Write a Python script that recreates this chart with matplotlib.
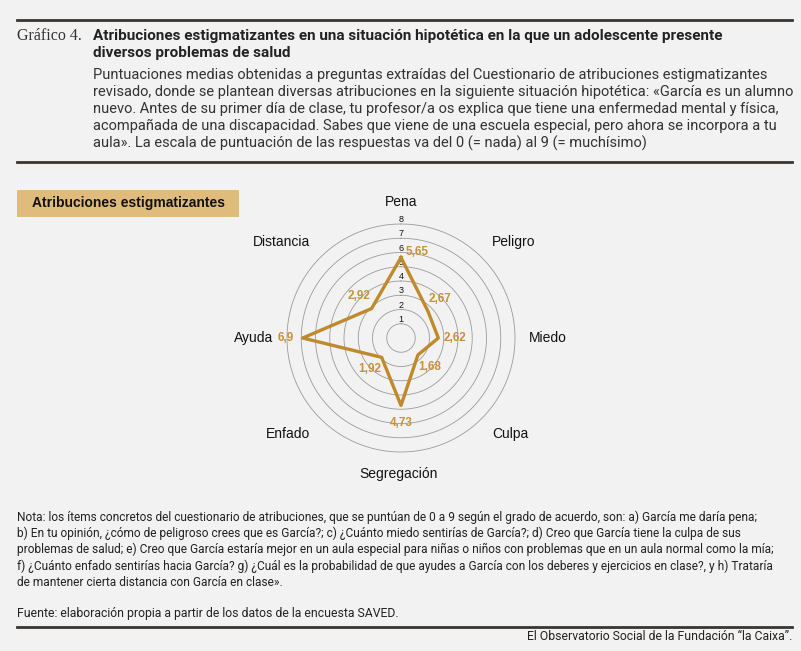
import numpy as np
import matplotlib
matplotlib.use("Agg")
import matplotlib.pyplot as plt
from matplotlib.patches import Rectangle

# --- data ---
categories = ["Pena", "Peligro", "Miedo", "Culpa", "Segregación", "Enfado", "Ayuda", "Distancia"]
values = [5.65, 2.67, 2.62, 1.68, 4.73, 1.92, 6.9, 2.92]
value_labels = ["5,65", "2,67", "2,62", "1,68", "4,73", "1,92", "6,9", "2,92"]
ring_ticks = [1, 2, 3, 4, 5, 6, 7, 8]

title_lines = [
    "Atribuciones estigmatizantes en una situación hipotética en la que un adolescente presente",
    "diversos problemas de salud",
]
subtitle_lines = [
    "Puntuaciones medias obtenidas a preguntas extraídas del Cuestionario de atribuciones estigmatizantes",
    "revisado, donde se plantean diversas atribuciones en la siguiente situación hipotética: «García es un alumno",
    "nuevo. Antes de su primer día de clase, tu profesor/a os explica que tiene una enfermedad mental y física,",
    "acompañada de una discapacidad. Sabes que viene de una escuela especial, pero ahora se incorpora a tu",
    "aula». La escala de puntuación de las respuestas va del 0 (= nada) al 9 (= muchísimo)",
]
note_lines = [
    "Nota: los ítems concretos del cuestionario de atribuciones, que se puntúan de 0 a 9 según el grado de acuerdo, son: a) García me daría pena;",
    "b) En tu opinión, ¿cómo de peligroso crees que es García?; c) ¿Cuánto miedo sentirías de García?; d) Creo que García tiene la culpa de sus",
    "problemas de salud; e) Creo que García estaría mejor en un aula especial para niñas o niños con problemas que en un aula normal como la mía;",
    "f) ¿Cuánto enfado sentirías hacia García? g) ¿Cuál es la probabilidad de que ayudes a García con los deberes y ejercicios en clase?, y h) Trataría",
    "de mantener cierta distancia con García en clase».",
]
source_text = "Fuente: elaboración propia a partir de los datos de la encuesta SAVED."
credit_text = "El Observatorio Social de la Fundación “la Caixa”."

BG = "#f2f2f2"
DARK = "#3a3531"
GOLD = "#c08a2c"
GOLD_TXT = "#c8913a"
BOX = "#dfbc7b"

W, H = 801, 651
fig = plt.figure(figsize=(W / 100, H / 100), dpi=100, facecolor=BG)


def fx(px):
    return px / W


def fy(py):
    return 1 - py / H


# -------------------------
# --- header text block ---
# -------------------------
fig.add_artist(plt.Line2D([fx(17), fx(792)], [fy(20), fy(20)], color=DARK, lw=2))
fig.text(fx(17), fy(36), "Gráfico 4.", fontsize=11.5, family="Liberation Serif",
         color="#333333", va="center")
for i, line in enumerate(title_lines):
    fig.text(fx(93), fy(36 + 17 * i), line, fontsize=11, weight="bold",
             family="Roboto", color="#222222", va="center")
for i, line in enumerate(subtitle_lines):
    fig.text(fx(93), fy(75 + 17 * i), line, fontsize=10.5, family="Roboto",
             color="#333333", va="center")
fig.add_artist(plt.Line2D([fx(17), fx(792)], [fy(162), fy(162)], color=DARK, lw=2))

# section label box
fig.add_artist(Rectangle((fx(17), fy(217)), fx(239) - fx(17), fy(190) - fy(217),
                         transform=fig.transFigure, facecolor=BOX, edgecolor="none"))
fig.text(fx(32), fy(203), "Atribuciones estigmatizantes", fontsize=10, weight="bold",
         family="Liberation Sans", color="#111111", va="center")

# ---------------------
# --- radar chart ---
# ---------------------
cx, cy, rad = 401, 338, 114
ax = fig.add_axes([fx(cx - rad), fy(cy + rad), 2 * rad / W, 2 * rad / H], projection="polar")
ax.patch.set_visible(False)
ax.set_theta_zero_location("N")
ax.set_theta_direction(-1)
ax.set_ylim(0, 8)
ax.set_xticks([])
ax.set_yticks([])
ax.spines["polar"].set_visible(False)
ax.grid(False)

n = len(categories)
theta = np.arange(n) * 2 * np.pi / n
circ = np.linspace(0, 2 * np.pi, 300)
for t in ring_ticks:
    ax.plot(circ, np.full_like(circ, t), color="#9a9a9a", lw=0.6, zorder=1, clip_on=False)
    ax.text(0, t + 0.3, str(t), fontsize=6.5, family="Liberation Sans", ha="center",
            va="center", color="#111111", zorder=2, clip_on=False)

th_closed = np.append(theta, theta[0])
val_closed = np.append(values, values[0])
ax.plot(th_closed, val_closed, color=GOLD, lw=2.4, zorder=3, clip_on=False)

for t, v, lab in zip(theta, values, value_labels):
    dx = 16 if t == 0 else 0
    r = v + 0.35 if t == 0 else v + 1.2
    ax.annotate(lab, (t, r), xytext=(dx * 0.72, 0), textcoords="offset points",
                fontsize=8.5, weight="bold", family="Liberation Sans", color=GOLD_TXT,
                ha="center", va="center", annotation_clip=False, zorder=4)

# category names: centred on the vertical axis, flush left/right elsewhere
for t, lab in zip(theta, categories):
    s, c = np.sin(t), np.cos(t)
    if abs(s) < 0.01:
        ha, r, dy = "center", 9.55, 0
    else:
        ha = "left" if s > 0 else "right"
        r = 9.0 + 0.35 * abs(c)
        dy = 2.2 * np.sign(c) if abs(c) > 0.01 else 0
    ax.annotate(lab, (t, r), xytext=(-2 * np.sign(s) * abs(c), dy), textcoords="offset points",
                fontsize=10, family="Liberation Sans", ha=ha, va="center",
                color="#111111", annotation_clip=False)

# -------------------
# --- footer text ---
# -------------------
for i, line in enumerate(note_lines):
    fig.text(fx(17), fy(517 + 16.3 * i), line, fontsize=8.6,
             family="Roboto", color="#222222", va="center")
fig.text(fx(17), fy(614), source_text, fontsize=8.8,
         family="Roboto", color="#222222", va="center")
fig.add_artist(plt.Line2D([fx(17), fx(792)], [fy(627), fy(627)], color=DARK, lw=2))
fig.text(fx(792), fy(636), credit_text, fontsize=8.8,
         family="Roboto", color="#222222", va="center", ha="right")

fig.savefig("out.png", dpi=100, facecolor=BG)
